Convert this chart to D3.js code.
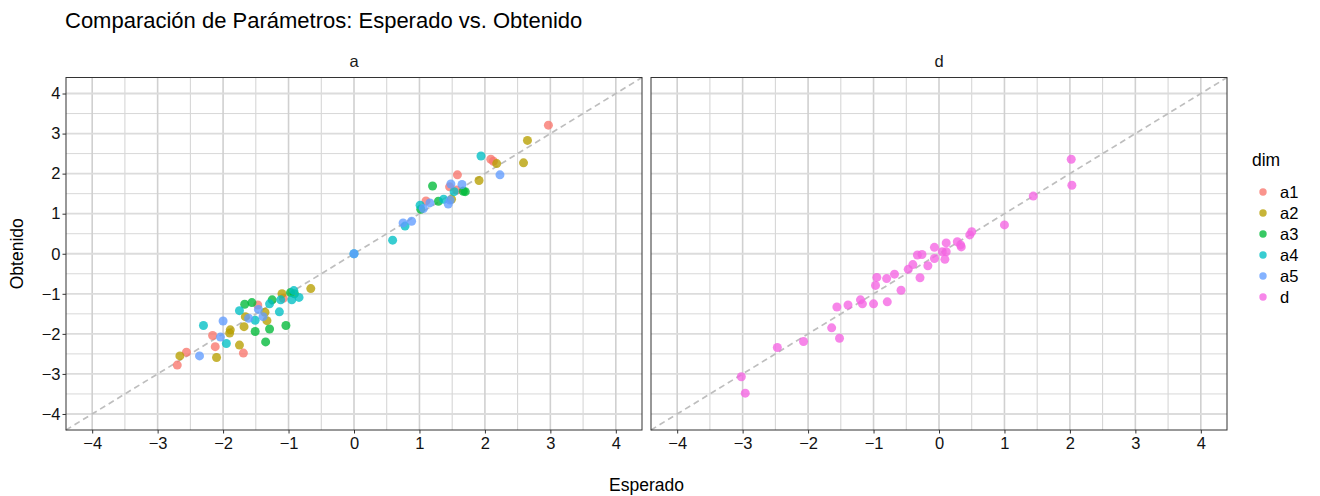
<!DOCTYPE html>
<html>
<head>
<meta charset="utf-8">
<script src="https://cdn.jsdelivr.net/npm/d3@7"></script>
<style>
  html, body { margin: 0; padding: 0; background: #ffffff; }
  svg { display: block; font-family: "Liberation Sans", Arial, sans-serif; }
</style>
</head>
<body>
<svg id="chart" width="1320" height="496"></svg>
<script>
// ---- DATA ----
const titleText = "Comparación de Parámetros: Esperado vs. Obtenido";
const panels = ["a", "d"];
const legendTitle = "dim";
const dims = ["a1", "a2", "a3", "a4", "a5", "d"];
const dimColors = ["#F8766D", "#B79F00", "#00BA38", "#00BFC4", "#619CFF", "#F564E3"];
const tickValues = [-4, -3, -2, -1, 0, 1, 2, 3, 4];
const axisLimits = [-4.4, 4.4];

const a1Esperado = [-2.70, -2.56, -2.12, -2.16, -1.69, -1.47, -1.08, 1.10, 1.46, 1.57, 1.58, 2.09, 2.13, 2.97];
const a1Obtenido = [-2.78, -2.46, -2.32, -2.04, -2.48, -1.28, -1.11, 1.32, 1.67, 1.59, 1.97, 2.36, 2.31, 3.21];

const a2Esperado = [-2.66, -2.10, -1.89, -1.90, -1.75, -1.68, -1.66, -1.36, -1.33, -1.10, -0.66, 1.49, 1.91, 2.18, 2.59, 2.65];
const a2Obtenido = [-2.55, -2.59, -1.90, -1.98, -2.28, -1.82, -1.57, -1.46, -1.67, -1.00, -0.87, 1.36, 1.83, 2.25, 2.27, 2.83];

const a3Esperado = [-1.67, -1.56, -1.51, -1.29, -1.35, -1.25, -1.04, -0.97, -0.91, 1.02, 1.20, 1.29, 1.67, 1.70];
const a3Obtenido = [-1.26, -1.22, -1.94, -1.88, -2.20, -1.15, -1.79, -0.97, -1.00, 1.11, 1.69, 1.31, 1.56, 1.55];

const a4Esperado = [-2.30, -1.95, -1.75, -1.51, -1.29, -1.12, -1.14, -0.92, -0.95, -0.84, 0.00, 0.59, 0.78, 1.01, 1.37, 1.53, 1.94];
const a4Obtenido = [-1.79, -2.24, -1.42, -1.66, -1.25, -1.15, -1.45, -0.92, -1.15, -1.09, 0.00, 0.34, 0.69, 1.21, 1.36, 1.55, 2.44];

const a5Esperado = [-2.36, -2.04, -2.00, -1.61, -1.46, -1.39, 0.00, 0.75, 0.88, 1.06, 1.16, 1.44, 1.47, 1.48, 1.65, 2.23];
const a5Obtenido = [-2.55, -2.08, -1.68, -1.61, -1.39, -1.57, 0.00, 0.77, 0.81, 1.13, 1.27, 1.24, 1.34, 1.74, 1.73, 1.97];

const dEsperado = [2.02, 2.03, 1.44, 1.00, 0.50, 0.47, 0.28, 0.33, 0.34, 0.11, -0.07, 0.05, 0.11, 0.09, -0.07, -0.33, -0.26, -0.17, -0.40, -0.47, -0.29, -0.68, -0.58, -0.80, -0.95, -0.97, -0.79, -1.00, -1.20, -1.17, -1.39, -1.56, -1.64, -1.52, -2.07, -2.47, -3.02, -2.96];
const dObtenido = [2.36, 1.71, 1.44, 0.72, 0.55, 0.47, 0.30, 0.22, 0.17, 0.27, 0.16, 0.05, 0.05, -0.14, -0.12, -0.03, -0.02, -0.30, -0.27, -0.39, -0.60, -0.51, -0.91, -0.62, -0.59, -0.79, -1.20, -1.25, -1.15, -1.25, -1.28, -1.33, -1.85, -2.11, -2.19, -2.34, -3.07, -3.48];

// build long table
const seriesTable = [
  { dim: "a1", panel: "a", x: a1Esperado, y: a1Obtenido },
  { dim: "a2", panel: "a", x: a2Esperado, y: a2Obtenido },
  { dim: "a3", panel: "a", x: a3Esperado, y: a3Obtenido },
  { dim: "a4", panel: "a", x: a4Esperado, y: a4Obtenido },
  { dim: "a5", panel: "a", x: a5Esperado, y: a5Obtenido },
  { dim: "d",  panel: "d", x: dEsperado,  y: dObtenido }
];
const points = [];
seriesTable.forEach(s => s.x.forEach((v, i) => points.push({ dim: s.dim, panel: s.panel, x: v, y: s.y[i] })));

// ---- LAYOUT ----
const svg = d3.select("#chart");
const color = d3.scaleOrdinal(dims, dimColors);
const panelTop = 77.5, panelBottom = 430;
const panelX = { a: [66, 642], d: [651, 1227] };
const y = d3.scaleLinear(axisLimits, [panelBottom, panelTop]);

const minorVals = d3.range(-4.5, 4.6, 1);

// title
svg.append("text")
  .attr("x", 65).attr("y", 28)
  .attr("font-size", 22).attr("fill", "#000")
  .text(titleText);

panels.forEach(p => {
  const x = d3.scaleLinear(axisLimits, panelX[p]);
  const g = svg.append("g");
  const [x0, x1] = panelX[p];

  g.append("rect").attr("x", x0).attr("y", panelTop).attr("width", x1 - x0).attr("height", panelBottom - panelTop).attr("fill", "#fff");

  // minor grid
  g.selectAll(".vmin").data(minorVals.filter(v => v > axisLimits[0] && v < axisLimits[1])).join("line")
    .attr("x1", d => x(d)).attr("x2", d => x(d)).attr("y1", panelTop).attr("y2", panelBottom)
    .attr("stroke", "#d2d2d2").attr("stroke-width", 1);
  g.selectAll(".hmin").data(minorVals.filter(v => v > axisLimits[0] && v < axisLimits[1])).join("line")
    .attr("y1", d => y(d)).attr("y2", d => y(d)).attr("x1", x0).attr("x2", x1)
    .attr("stroke", "#d8d8d8").attr("stroke-width", 1);
  // major grid
  g.selectAll(".vmaj").data(tickValues).join("line")
    .attr("x1", d => x(d)).attr("x2", d => x(d)).attr("y1", panelTop).attr("y2", panelBottom)
    .attr("stroke", "#d0d0d0").attr("stroke-width", 1.6);
  g.selectAll(".hmaj").data(tickValues).join("line")
    .attr("y1", d => y(d)).attr("y2", d => y(d)).attr("x1", x0).attr("x2", x1)
    .attr("stroke", "#dcdcdc").attr("stroke-width", 1.8);

  // identity line
  g.append("line")
    .attr("x1", x(axisLimits[0])).attr("y1", y(axisLimits[0]))
    .attr("x2", x(axisLimits[1])).attr("y2", y(axisLimits[1]))
    .attr("stroke", "#bebebe").attr("stroke-width", 1.7).attr("stroke-dasharray", "6,4");

  // points
  g.selectAll("circle").data(points.filter(d => d.panel === p)).join("circle")
    .attr("cx", d => x(d.x)).attr("cy", d => y(d.y)).attr("r", 4.5)
    .attr("fill", d => color(d.dim)).attr("fill-opacity", 0.78);

  // border
  g.append("rect").attr("x", x0).attr("y", panelTop).attr("width", x1 - x0).attr("height", panelBottom - panelTop)
    .attr("fill", "none").attr("stroke", "#333").attr("stroke-width", 1);

  // strip label
  svg.append("text").attr("x", (x0 + x1) / 2).attr("y", 67).attr("text-anchor", "middle")
    .attr("font-size", 16.5).attr("fill", "#1a1a1a").text(p);

  // x axis
  const xa = svg.append("g").attr("transform", `translate(0,${panelBottom})`)
    .call(d3.axisBottom(x).tickValues(tickValues).tickSize(3.5).tickPadding(4).tickFormat(d3.format("d")));
  xa.select(".domain").remove();
  xa.selectAll("line").attr("stroke", "#333");
  xa.selectAll("text").attr("font-size", 16.5).attr("fill", "#111").attr("font-family", "Liberation Sans, Arial, sans-serif");

  if (p === "a") {
    const ya = svg.append("g").attr("transform", `translate(${x0},0)`)
      .call(d3.axisLeft(y).tickValues(tickValues).tickSize(3.5).tickPadding(2).tickFormat(d3.format("d")));
    ya.select(".domain").remove();
    ya.selectAll("line").attr("stroke", "#333");
    ya.selectAll("text").attr("font-size", 16.5).attr("fill", "#111").attr("font-family", "Liberation Sans, Arial, sans-serif");
  }
});

// axis titles
svg.append("text").attr("x", 646.5).attr("y", 491).attr("text-anchor", "middle")
  .attr("font-size", 17.5).attr("fill", "#000").text("Esperado");
svg.append("text").attr("transform", `translate(23,${(panelTop + panelBottom) / 2}) rotate(-90)`)
  .attr("text-anchor", "middle").attr("font-size", 17.5).attr("fill", "#000").text("Obtenido");

// legend
svg.append("text").attr("x", 1252).attr("y", 166).attr("font-size", 17.5).attr("fill", "#000").text(legendTitle);
const lg = svg.append("g").selectAll("g").data(dims).join("g")
  .attr("transform", (d, i) => `translate(0,${192 + i * 21})`);
lg.append("circle").attr("cx", 1263).attr("cy", 0).attr("r", 3.7)
  .attr("fill", d => color(d)).attr("fill-opacity", 0.78);
lg.append("text").attr("x", 1280).attr("y", 6).attr("font-size", 16.5).attr("fill", "#000").text(d => d);
</script>
</body>
</html>
